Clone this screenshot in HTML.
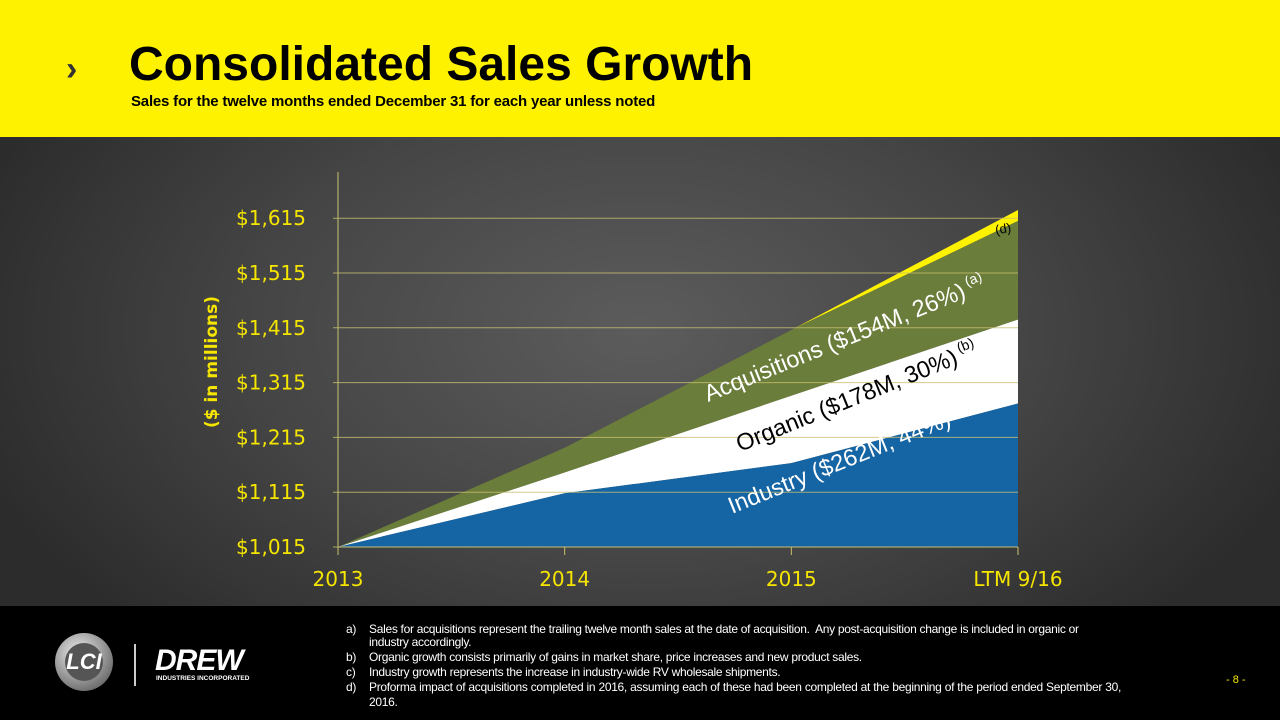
<!DOCTYPE html>
<html><head><meta charset="utf-8"><style>
body{margin:0;width:1280px;height:720px;overflow:hidden;font-family:"Liberation Sans",sans-serif;position:relative;
background:radial-gradient(ellipse 700px 420px at 640px 330px,#5c5c5c 0%,#454545 55%,#2c2c2c 100%);}
#hdr{position:absolute;left:0;top:0;width:1280px;height:137px;background:#fff200;}
#title{position:absolute;left:129px;top:37px;font-size:48px;font-weight:bold;color:#000;}
#sub{position:absolute;left:131px;top:93px;font-size:15px;font-weight:bold;color:#000;letter-spacing:-0.2px}
#chev{position:absolute;left:66px;top:50px;font-size:34px;font-weight:bold;color:#333;}
#ftr{position:absolute;left:0;top:606px;width:1280px;height:114px;background:#000;}
.fn{position:absolute;color:#fff;font-size:12px;letter-spacing:-0.3px;line-height:13px;}
.fn b{font-weight:normal;position:absolute;left:-23px;}
</style></head><body>
<div id="hdr"></div>
<div id="chev">›</div>
<div id="title">Consolidated Sales Growth</div>
<div id="sub">Sales for the twelve months ended December 31 for each year unless noted</div>
<svg id="chart" width="1280" height="720" style="position:absolute;left:0;top:0"></svg>
<div id="ftr">
 <div style="position:absolute;left:55px;top:27px;width:58px;height:58px;border-radius:50%;background:radial-gradient(circle at 40% 35%,#eee,#888 60%,#444);"><div style="position:absolute;left:10px;top:10px;width:38px;height:38px;border-radius:50%;background:#555;color:#fff;font-weight:bold;font-size:22px;text-align:center;line-height:38px;font-style:italic">LCI</div></div>
 <div style="position:absolute;left:134px;top:38px;width:2px;height:42px;background:#ccc"></div>
 <div style="position:absolute;left:155px;top:38px;color:#fff;font-weight:bold;font-style:italic;font-size:30px;letter-spacing:-1px">DREW</div>
 <div style="position:absolute;left:156px;top:69px;color:#fff;font-size:6.5px;font-weight:bold">INDUSTRIES INCORPORATED</div>
 <div class="fn" style="left:369px;top:17px;width:752px"><b>a)</b>Sales for acquisitions represent the trailing twelve month sales at the date of acquisition.&nbsp; Any post-acquisition change is included in organic or industry accordingly.</div>
 <div class="fn" style="left:369px;top:45px"><b>b)</b>Organic growth consists primarily of gains in market share, price increases and new product sales.</div>
 <div class="fn" style="left:369px;top:60px"><b>c)</b>Industry growth represents the increase in industry-wide RV wholesale shipments.</div>
 <div class="fn" style="left:369px;top:74px;width:752px;text-align:justify;line-height:15px"><b>d)</b>Proforma impact of acquisitions completed in 2016, assuming each of these had been completed at the beginning of the period ended September 30, 2016.</div>
 <div style="position:absolute;left:1226px;top:68px;color:#f5e500;font-size:11px">- 8 -</div>
</div>
<script>
const categories=["2013","2014","2015","LTM 9/16"];
const industryTop=[1015,1113,1168,1277];
const organicTop=[1015,1151,1291,1430];
const acquisitionsTop=[1015,1196,1411,1610];
const proformaTop=[1015,1196,1411,1630];
const yTicks=[1015,1115,1215,1315,1415,1515,1615];
const svg=document.getElementById('chart');const NS='http://www.w3.org/2000/svg';
const x0=338,x1=1018,yBase=547,yPer=0.548;
const X=i=>x0+(x1-x0)*i/(categories.length-1);
const Y=v=>yBase-(v-1015)*yPer;
function mk(t,a){const e=document.createElementNS(NS,t);for(const k in a)e.setAttribute(k,a[k]);svg.appendChild(e);return e;}
function area(top,bot,fill,name){let d='';top.forEach((v,i)=>d+=(i?'L':'M')+X(i)+','+Y(v));for(let i=bot.length-1;i>=0;i--)d+='L'+X(i)+','+Y(bot[i]);
const p=mk('path',{d:d+'Z',fill:fill});

}
const base=categories.map(()=>1015);
area(proformaTop,acquisitionsTop,'#fff200','proforma-area');
area(acquisitionsTop,organicTop,'#6b7d3a','acquisitions-area');
area(organicTop,industryTop,'#ffffff','organic-area');
area(industryTop,base,'#1565a5','industry-area');
yTicks.forEach(v=>{const l=mk('line',{x1:333,x2:x1,y1:Y(v),y2:Y(v),stroke:'#c8c070','stroke-width':1,opacity:0.8});


const t=mk('text',{x:306,y:Y(v)+7,'text-anchor':'end',fill:'#f5e500','font-size':20,'font-family':'DejaVu Sans, sans-serif'});t.textContent='$'+v.toLocaleString('en-US');

});
mk('line',{x1:x0,x2:x0,y1:172,y2:552,stroke:'#c8c070'});
mk('line',{x1:x0,x2:x1,y1:yBase,y2:yBase,stroke:'#c8c070'});
categories.forEach((c,i)=>{mk('line',{x1:X(i),x2:X(i),y1:yBase,y2:yBase+8,stroke:'#c8c070'});
const t=mk('text',{x:X(i),y:586,'text-anchor':'middle',fill:'#f5e500','font-size':20,'font-family':'DejaVu Sans, sans-serif'});t.textContent=c;

});
const yt=mk('text',{x:0,y:0,transform:'translate(217,362) rotate(-90)','text-anchor':'middle',fill:'#f5e500','font-size':17,'font-weight':'bold','font-family':'DejaVu Sans, sans-serif'});yt.textContent='($ in millions)';


function lab(txt,sup,x,y,col,name){const t=mk('text',{transform:`translate(${x},${y}) rotate(-22)`,fill:col,'font-size':23.5,'font-family':'Liberation Sans, sans-serif'});t.textContent=txt;
const s=document.createElementNS(NS,'tspan');s.setAttribute('font-size',14);s.setAttribute('dy',-10);s.textContent=' '+sup;t.appendChild(s);

}
lab('Acquisitions ($154M, 26%)','(a)',708,402,'#fff','acquisitions-label');
lab('Organic ($178M, 30%)','(b)',740,452,'#000','organic-label');
lab('Industry ($262M, 44%)','(c)',732,514,'#fff','industry-label');
const d=mk('text',{x:995,y:233,fill:'#000','font-size':13,transform:'rotate(-10 1004 228)'});d.textContent='(d)';


</script>
</body></html>
